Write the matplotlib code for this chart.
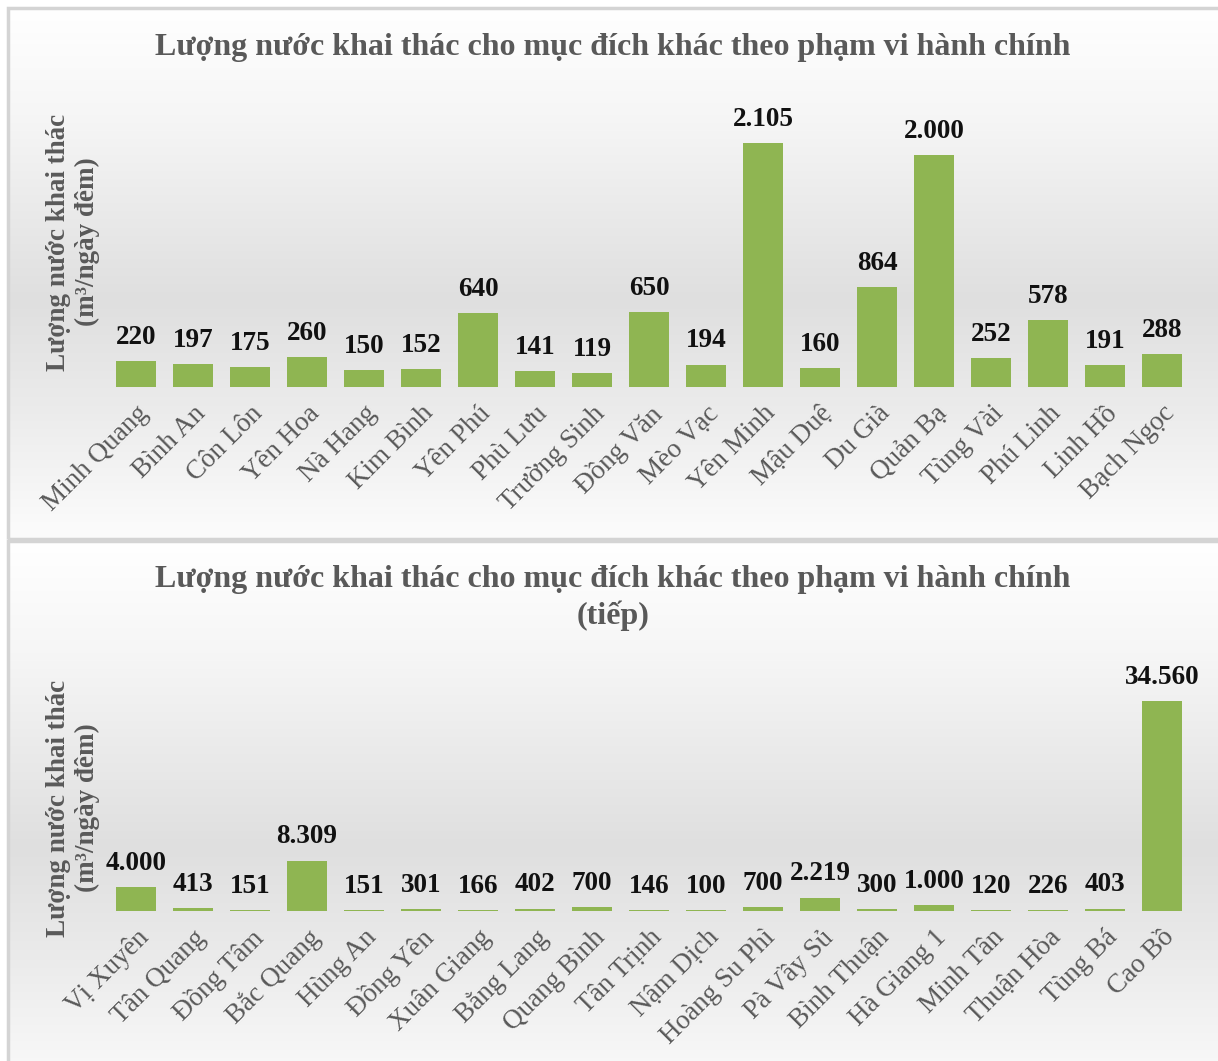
import numpy as np
import matplotlib.pyplot as plt
from matplotlib.colors import LinearSegmentedColormap
from matplotlib.patches import Rectangle

plt.rcParams['font.family'] = ['Liberation Serif', 'DejaVu Serif']

# Data
top_names = ["Minh Quang", "Bình An", "Côn Lôn", "Yên Hoa", "Nà Hang", "Kim Bình",
             "Yên Phú", "Phù Lưu", "Trường Sinh", "Đồng Văn", "Mèo Vạc", "Yên Minh",
             "Mậu Duệ", "Du Già", "Quản Bạ", "Tùng Vài", "Phú Linh", "Linh Hồ", "Bạch Ngọc"]
top_vals = [220, 197, 175, 260, 150, 152, 640, 141, 119, 650, 194, 2105,
            160, 864, 2000, 252, 578, 191, 288]

bottom_names = ["Vị Xuyên", "Tân Quang", "Đồng Tâm", "Bắc Quang", "Hùng An", "Đồng Yên",
                "Xuân Giang", "Bằng Lang", "Quang Bình", "Tân Trịnh", "Nậm Dịch",
                "Hoàng Su Phì", "Pà Vầy Sủ", "Bình Thuận", "Hà Giang 1", "Minh Tân",
                "Thuận Hòa", "Tùng Bá", "Cao Bồ"]
bottom_vals = [4000, 413, 151, 8309, 151, 301, 166, 402, 700, 146, 100,
               700, 2219, 300, 1000, 120, 226, 403, 34560]

title = "Lượng nước khai thác cho mục đích khác theo phạm vi hành chính"
ylabel = "Lượng nước khai thác\n(m³/ngày đêm)"

W, H = 1218, 1061
fig = plt.figure(figsize=(W / 100, H / 100), dpi=100)

grad_cmap = LinearSegmentedColormap.from_list(
    "bg", [(0, "#ffffff"), (0.2, "#f6f6f6"), (0.55, "#dfdfdf"),
           (0.75, "#ebebeb"), (1, "#fcfcfc")])


def fx(px):
    return px / W


def fy(py):
    return 1 - py / H


def panel(top, bottom):
    # background gradient + border of one chart area
    bg = fig.add_axes([fx(8), fy(bottom), 1 - fx(8), fy(top) - fy(bottom)], zorder=0)
    bg.imshow(np.linspace(0, 1, 256).reshape(-1, 1), cmap=grad_cmap,
              aspect="auto", extent=[0, 1, 0, 1])
    bg.set_axis_off()
    fig.patches.append(Rectangle((fx(8), fy(bottom)), 1.2, fy(top) - fy(bottom),
                                 transform=fig.transFigure, fill=False,
                                 edgecolor="#d4d4d4", linewidth=2.5, zorder=5))


def fmt(v):
    return f"{v:,}".replace(",", ".")


def bar_chart(names, vals, base_px, top_px, scale_px):
    ax = fig.add_axes([fx(107.5), fy(base_px), fx(1083), (base_px - top_px) / H], zorder=2)
    ax.patch.set_alpha(0)
    x = np.arange(len(names))
    ax.bar(x, vals, width=0.7, color="#8fb552", edgecolor="none")
    ax.set_xlim(-0.5, len(names) - 0.5)
    ax.set_ylim(0, max(vals) * (base_px - top_px) / scale_px)
    for xi, v in zip(x, vals):
        ax.annotate(fmt(v), (xi, v), xytext=(0, 8), textcoords="offset points",
                    ha="center", va="bottom", fontsize=19.5, fontweight="bold",
                    color="#111111")
    ax.set_xticks(x)
    ax.set_xticklabels(names, rotation=45, ha="right", rotation_mode="anchor",
                       fontsize=19.5, color="#595959")
    ax.tick_params(axis="x", length=0, pad=10)
    ax.set_yticks([])
    for s in ax.spines.values():
        s.set_visible(False)
    return ax


# Top chart
panel(8, 539)
bar_chart(top_names, top_vals, 387, 100, 244)
fig.text(fx(613), fy(47), title, ha="center", va="center", fontsize=23,
         fontweight="bold", color="#595959")
fig.text(fx(73), fy(242), ylabel, ha="center", va="center", rotation=90,
         fontsize=19.5, fontweight="bold", color="#595959", multialignment="center")

# Bottom chart
panel(541, 1100)
bar_chart(bottom_names, bottom_vals, 911, 660, 210)
fig.text(fx(613), fy(598), title + "\n(tiếp)", ha="center", va="center",
         fontsize=23, fontweight="bold", color="#595959", linespacing=1.25)
fig.text(fx(73), fy(808), ylabel, ha="center", va="center", rotation=90,
         fontsize=19.5, fontweight="bold", color="#595959", multialignment="center")

fig.savefig("out.png", dpi=100)
